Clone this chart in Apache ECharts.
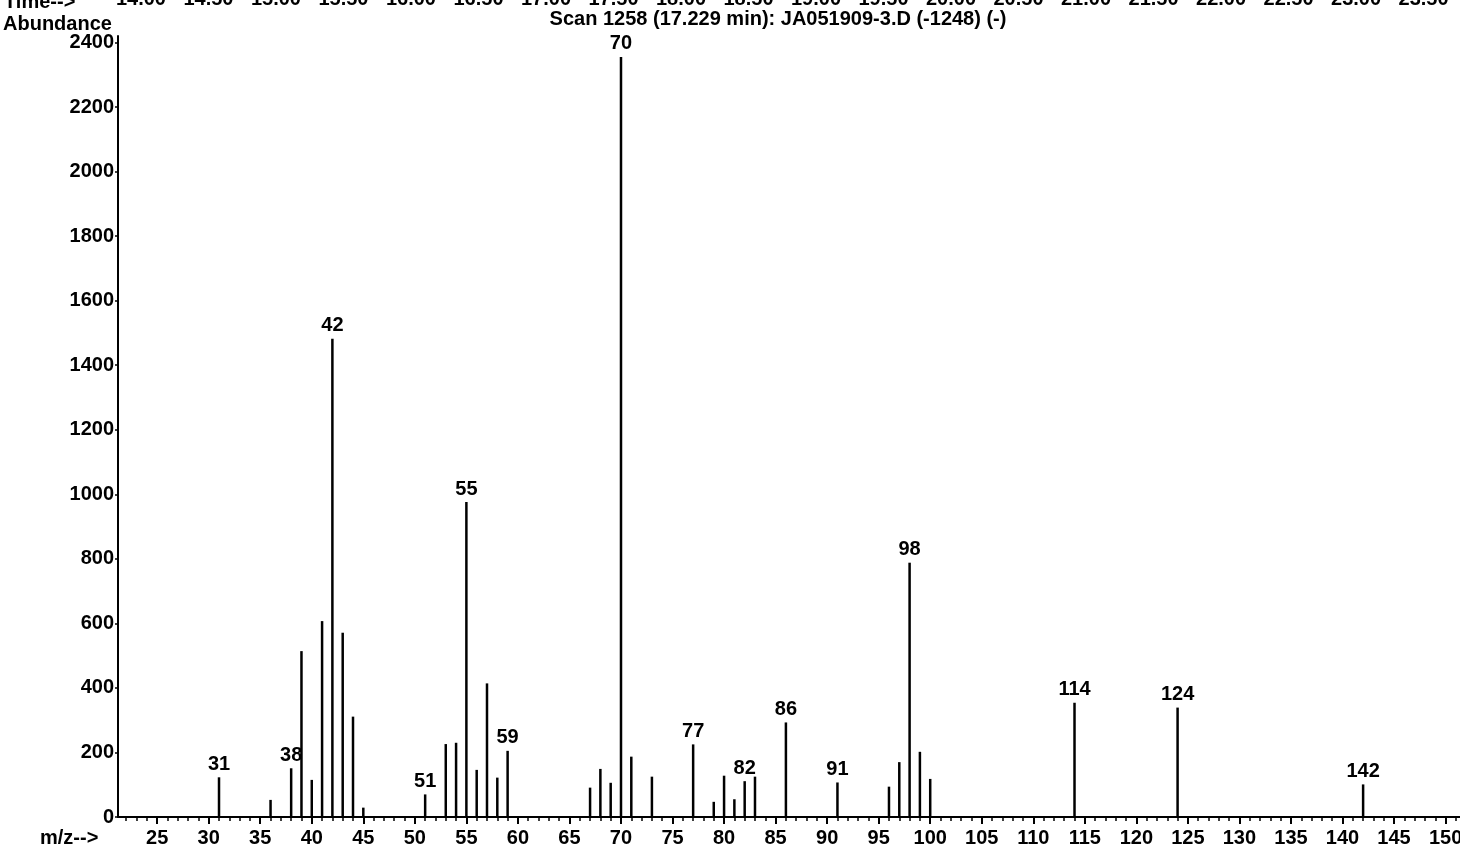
<!DOCTYPE html>
<html>
<head>
<meta charset="utf-8">
<script src="https://cdn.jsdelivr.net/npm/echarts@6/dist/echarts.min.js"></script>
<style>
html,body{margin:0;padding:0;background:#fff;}
#chart{width:1460px;height:853px;}
</style>
</head>
<body>
<div id="chart"></div>
<script>
// ---- data ----
const mz = [31,36,38,39,40,41,42,43,44,45,51,53,54,55,56,57,58,59,67,68,69,70,71,73,77,79,80,81,82,83,86,91,96,97,98,99,100,114,124,142];
const abundance = [123,53,151,514,115,607,1482,571,311,29,70,226,230,976,146,414,122,205,91,149,106,2355,187,125,225,47,128,55,111,125,293,107,94,170,788,202,118,354,339,101];
const labeledPeaks = [31,38,42,51,55,59,70,77,82,86,91,98,114,124,142];
const xTickLabels = [25,30,35,40,45,50,55,60,65,70,75,80,85,90,95,100,105,110,115,120,125,130,135,140,145,150];
const yTickLabels = [0,200,400,600,800,1000,1200,1400,1600,1800,2000,2200,2400];
const timeTickLabels = ['14.00','14.50','15.00','15.50','16.00','16.50','17.00','17.50','18.00','18.50','19.00','19.50','20.00','20.50','21.00','21.50','22.00','22.50','23.00','23.50'];
const titleText = 'Scan 1258 (17.229 min): JA051909-3.D (-1248) (-)';

// ---- chart ----
const FONT = '"Liberation Sans", Arial, sans-serif';
const FS = 20;
const X_MIN = 21.2, X_MAX = 151.4;
const minorTicks = [];
for (let v = 22; v <= 151; v++) minorTicks.push(v);
const timeValues = timeTickLabels.map(Number);

const chart = echarts.init(document.getElementById('chart'), null, {renderer: 'canvas'});
const seriesData = mz.map((m, i) => {
  const item = {value: [m, abundance[i]]};
  if (labeledPeaks.indexOf(m) >= 0) {
    item.label = {show: true};
  }
  return item;
});

chart.setOption({
  animation: false,
  backgroundColor: '#fff',
  textStyle: {fontFamily: FONT},
  grid: {left: 118, right: 0, top: 36, bottom: 36, containLabel: false, outerBoundsMode: 'none'},
  xAxis: [
    {
      type: 'value', min: X_MIN, max: X_MAX,
      axisLine: {show: true, onZero: false, lineStyle: {color: '#000', width: 2}},
      axisTick: {show: true, inside: false, length: 7, lineStyle: {color: '#000', width: 2}, customValues: xTickLabels},
      axisLabel: {show: true, color: '#000', fontSize: FS, fontWeight: 'bold', fontFamily: FONT, margin: 11,
        customValues: xTickLabels, formatter: v => String(v)},
      splitLine: {show: false}
    },
    {
      type: 'value', min: X_MIN, max: X_MAX, position: 'bottom',
      axisLine: {show: false},
      axisTick: {show: true, inside: false, length: 4, lineStyle: {color: '#000', width: 1.5}, customValues: minorTicks},
      axisLabel: {show: false},
      splitLine: {show: false}
    },
    {
      type: 'value', min: 13.83, max: 23.77, position: 'top',
      axisLine: {show: false},
      axisTick: {show: false},
      axisLabel: {show: true, color: '#000', fontSize: FS, fontWeight: 'bold', fontFamily: FONT, margin: 27,
        customValues: timeValues, formatter: v => v.toFixed(2)},
      splitLine: {show: false}
    }
  ],
  yAxis: {
    type: 'value', min: 0, max: 2420,
    axisLine: {show: true, lineStyle: {color: '#000', width: 2}},
    axisTick: {show: true, inside: false, length: 3, lineStyle: {color: '#000', width: 1.5}, customValues: yTickLabels},
    axisLabel: {show: true, color: '#000', fontSize: FS, fontWeight: 'bold', fontFamily: FONT, margin: 4,
      customValues: yTickLabels, formatter: v => String(v)},
    splitLine: {show: false}
  },
  graphic: [
    {type: 'text', left: 3, top: 14, style: {text: 'Abundance', fill: '#000', font: 'bold ' + FS + 'px ' + FONT}},
    {type: 'text', left: 4, top: -8, style: {text: 'Time-->', fill: '#000', font: 'bold ' + FS + 'px ' + FONT}},
    {type: 'text', left: 40, top: 828, style: {text: 'm/z-->', fill: '#000', font: 'bold ' + FS + 'px ' + FONT}},
    {type: 'text', x: 778, y: 9, style: {text: titleText, fill: '#000', font: 'bold ' + FS + 'px ' + FONT, align: 'center'}}
  ],
  series: [{
    type: 'bar',
    xAxisIndex: 0,
    yAxisIndex: 0,
    barWidth: 2.5,
    itemStyle: {color: '#000'},
    label: {show: false, position: 'top', distance: 3, color: '#000', fontSize: FS, fontWeight: 'bold', fontFamily: FONT,
      formatter: p => String(p.value[0])},
    data: seriesData
  }]
});
</script>
</body>
</html>
